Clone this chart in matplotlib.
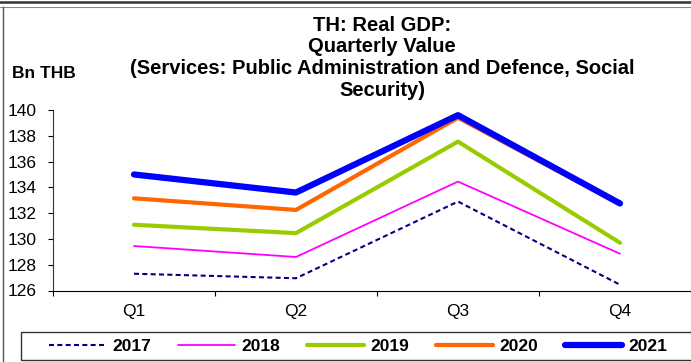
import matplotlib
matplotlib.use("Agg")
import matplotlib.pyplot as plt
from matplotlib.lines import Line2D
from matplotlib.patches import Rectangle

plt.rcParams['font.family'] = ['Liberation Sans', 'DejaVu Sans']

quarters = ['Q1', 'Q2', 'Q3', 'Q4']
years = ['2017', '2018', '2019', '2020', '2021']
gdp_2017 = [127.3, 126.95, 132.9, 126.45]
gdp_2018 = [129.45, 128.6, 134.45, 128.85]
gdp_2019 = [131.1, 130.45, 137.55, 129.7]
gdp_2020 = [133.15, 132.25, 139.4, 132.7]
gdp_2021 = [135.0, 133.6, 139.6, 132.75]
series = [gdp_2017, gdp_2018, gdp_2019, gdp_2020, gdp_2021]

colors = ['#000080', '#ff00ff', '#99cc00', '#ff6600', '#0000ff']
widths = [1.5, 1.3, 3.0, 3.0, 4.5]
styles = [(0, (2.4, 1.6)), '-', '-', '-', '-']

W, H = 691, 362
fig = plt.figure(figsize=(W / 100, H / 100), dpi=100)

# axes spans 53..701 px horizontally (right end is cut off), 110..290 px vertically
ax = fig.add_axes([53 / W, (H - 290.5) / H, 648 / W, 180.5 / H])

x = range(len(quarters))
for vals, c, lw, ls in zip(series, colors, widths, styles):
    ax.plot(x, vals, color=c, lw=lw, linestyle=ls, solid_capstyle='round',
            solid_joinstyle='round')

ax.set_xlim(-0.5, 3.5)
ax.set_ylim(126, 140)
ax.set_yticks(range(126, 141, 2))
ax.set_xticks([-0.5, 0.5, 1.5, 2.5, 3.5])
ax.set_xticklabels([])
ax.set_xticks(list(x), quarters, minor=True)
ax.tick_params(axis='x', which='minor', length=0, pad=10, labelsize=12.5)
ax.tick_params(axis='x', which='major', length=3.5, direction='out')
ax.tick_params(axis='y', length=3.5, pad=8, labelsize=12.5)
for s in ['top', 'right']:
    ax.spines[s].set_visible(False)
ax.spines['left'].set_color('#333333')
ax.spines['bottom'].set_color('black')

title = ["TH: Real GDP:", "Quarterly Value",
         "(Services: Public Administration and Defence, Social", "Security)"]
for i, line in enumerate(title):
    fig.text(382 / W, 1 - (31 + i * 21.5) / H, line, ha='center', va='baseline',
             fontsize=14.5, fontweight='bold')
fig.text(12 / W, 1 - 74 / H, 'Bn THB', ha='left', va='center',
         fontsize=12.5, fontweight='bold')

handles = [Line2D([], [], color=c, lw=lw, linestyle=ls, solid_capstyle='round')
           for c, lw, ls in zip(colors, widths, styles)]
leg = fig.legend(handles, years, loc='center left', bbox_to_anchor=(40 / W, 1 - 346 / H),
                 ncol=5, frameon=False, handlelength=3.3,
                 columnspacing=1.55, handletextpad=0.35, borderpad=0.0,
                 prop={'weight': 'bold', 'size': 12.5})
# legend box runs off the right edge
fig.add_artist(Rectangle((21 / W, 1 - 360 / H), 680 / W, 28 / H, fill=False,
                         edgecolor='#333333', lw=1.0, transform=fig.transFigure))

# outer chart frame (only top and left edges visible)
fig.add_artist(Line2D([0, 1], [1 - 1.5 / H, 1 - 1.5 / H], color='#333333', lw=1.8))
fig.add_artist(Line2D([0, 1], [1 - 6.5 / H, 1 - 6.5 / H], color='#888888', lw=0.8))
fig.add_artist(Line2D([3 / W, 3 / W], [0, 1 - 6.5 / H], color='#555555', lw=1.0))

fig.savefig('out.png', dpi=100)
